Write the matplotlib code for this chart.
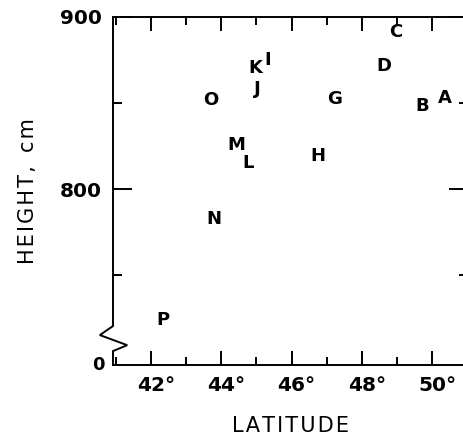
import numpy as np
import matplotlib.pyplot as plt
from matplotlib.ticker import MultipleLocator, FixedLocator
from matplotlib.lines import Line2D
import matplotlib.transforms as mtransforms

# station letters, latitude (deg) and height (cm)
labels = ["A", "B", "C", "D", "G", "H", "I", "J", "K", "L", "M", "N", "O", "P"]
latitude = [50.36, 49.71, 48.97, 48.63, 47.23, 46.75, 45.33, 45.02, 44.96,
            44.76, 44.42, 43.79, 43.71, 42.34]
height = [852.9, 848.3, 891.3, 871.5, 852.3, 819.0, 875.0, 858.0, 870.3,
          815.0, 825.6, 782.6, 851.7, 723.8]

x_ticks = [42, 44, 46, 48, 50]
x_ticklabels = ["42°", "44°", "46°", "48°", "50°"]
y_ticks = [800, 900]
y_ticklabels = ["800", "900"]

plt.rcParams['font.family'] = ['DejaVu Sans']

fig = plt.figure(figsize=(4.64, 4.36), dpi=100)
ax = fig.add_axes([113 / 464, 71 / 436, 355 / 464, 348 / 436])

ax.set_xlim(40.92, 51.02)
ax.set_ylim(697.7, 900)

for lab, x, y in zip(labels, latitude, height):
    ax.text(x, y, lab, ha="center", va="center", fontsize=13,
            fontweight="bold")

# axes frame
for s in ["top", "right", "bottom"]:
    ax.spines[s].set_linewidth(1.4)
ax.spines["left"].set_visible(False)

# left spine with break zigzag
zig_x = [0, 0, -0.037, 0.040, 0, 0]
zig_y = [1, 0.112, 0.086, 0.057, 0.040, 0]
ax.add_line(Line2D(zig_x, zig_y, transform=ax.transAxes, color="black",
                   lw=1.4, clip_on=False, solid_joinstyle="miter"))

ax.xaxis.set_major_locator(FixedLocator(x_ticks))
ax.xaxis.set_minor_locator(MultipleLocator(1))
ax.set_xticklabels(x_ticklabels, fontweight="bold")
ax.yaxis.set_major_locator(FixedLocator(y_ticks))
ax.yaxis.set_minor_locator(FixedLocator([750, 850]))
ax.set_yticklabels(y_ticklabels, fontweight="bold")

ax.tick_params(axis="x", which="major", direction="in", length=10, width=1.4,
               top=True, labelsize=14.5, pad=8)
ax.tick_params(axis="x", which="minor", direction="in", length=5.5, width=1.4,
               top=True)
ax.tick_params(axis="y", which="major", direction="in", length=13.5, width=1.4,
               right=True, labelsize=14.5, pad=8)
ax.tick_params(axis="y", which="minor", direction="in", length=6.5, width=1.4,
               right=True)

# shift the degree labels so the number sits on the tick
offset = mtransforms.ScaledTranslation(5 / 100, 0, fig.dpi_scale_trans)
for t in ax.get_xticklabels():
    t.set_transform(t.get_transform() + offset)

# broken axis origin
ax.text(-0.023, 0.0, "0", transform=ax.transAxes, ha="right", va="center",
        fontsize=13, fontweight="bold")

hs = "\u200a"
ax.set_xlabel(hs.join("LATITUDE"), fontsize=15, labelpad=15)
ax.set_ylabel(hs.join("HEIGHT,") + "  " + hs.join("cm"), fontsize=15,
              labelpad=16)

fig.savefig("out.png", dpi=100)
